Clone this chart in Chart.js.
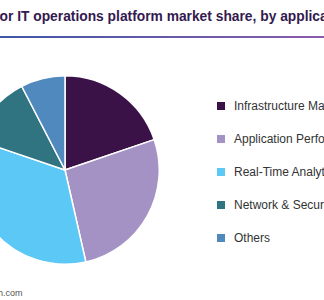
<!DOCTYPE html>
<html>
<head>
<meta charset="utf-8">
<script src="https://cdn.jsdelivr.net/npm/chart.js@4"></script>
<style>
  html, body { margin: 0; padding: 0; background: #fff; overflow: hidden; }
  body { width: 324px; height: 300px; position: relative; font-family: "Liberation Sans", Arial, sans-serif; }
  #title { position: absolute; top: 9px; left: 0; white-space: nowrap; font-weight: bold; font-size: 13.8px; color: #331a4f; }
  #rule { position: absolute; top: 36px; left: 0; width: 324px; height: 2px; background: linear-gradient(to right, #3f57a6, #8a5caa); }
  #myChart { position: absolute; left: -30px; top: 75px; }
  #legend { position: absolute; left: 217px; top: 98px; white-space: nowrap; }
  .item { height: 33px; font-size: 12px; color: #333; line-height: 16px; }
  .box { display: inline-block; width: 8px; height: 8px; margin-right: 9px; vertical-align: 0px; }
  #source { position: absolute; top: 288px; left: 0; white-space: nowrap; font-size: 9px; color: #555; }
</style>
</head>
<body>
<div id="title"><span id="cut">U.S. Artificial Intelligence f</span>or IT operations platform market share, by application, 2023 (%)</div>
<div id="rule"></div>
<canvas id="myChart" width="190" height="190"></canvas>
<div id="legend"></div>
<div id="source"><span id="srcCut">Source: www.grandviewresearc</span>h.com</div>
<script>
const labels = [
  "Infrastructure Management",
  "Application Performance Analysis",
  "Real-Time Analytics",
  "Network & Security Management",
  "Others",
];
const shares = [19.8, 26.7, 33.8, 12.2, 7.6];
const colors = ["#3a1248", "#a592c5", "#5bc8f5", "#2f7480", "#4f89bd"];

// shift the clipped bits off the left edge
const title = document.getElementById("title");
title.style.left = -document.getElementById("cut").offsetWidth + "px";
const source = document.getElementById("source");
source.style.left = -(document.getElementById("srcCut").offsetWidth + 2) + "px";

const legend = document.getElementById("legend");
labels.forEach((name, i) => {
  legend.innerHTML += `<div class="item"><span class="box" style="background:${colors[i]}"></span>${name}</div>`;
});

const ctx = document.getElementById("myChart").getContext("2d");
new Chart(ctx, {
  type: "pie",
  data: {
    labels: labels,
    datasets: [
      {
        data: shares,
        backgroundColor: colors,
        borderColor: "#ffffff",
        borderWidth: 1.5,
      },
    ],
  },
  options: {
    responsive: false,
    animation: false,
    plugins: { legend: { display: false }, tooltip: { enabled: false } },
  },
});
</script>
</body>
</html>
